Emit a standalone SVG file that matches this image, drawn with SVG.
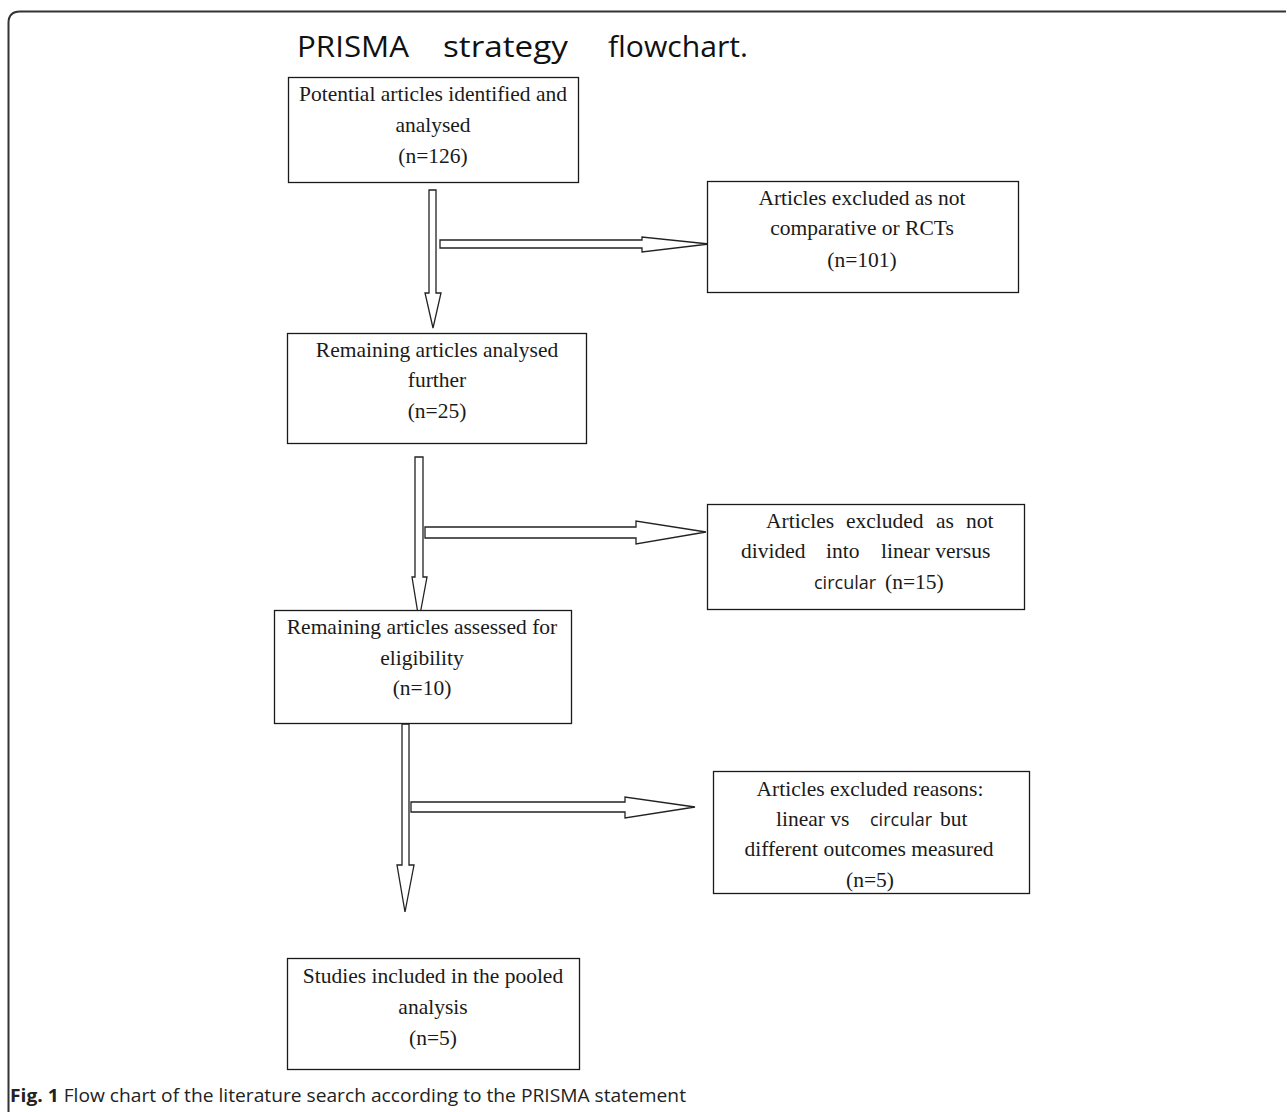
<svg xmlns="http://www.w3.org/2000/svg" width="1287" height="1112" viewBox="0 0 1287 1112">
<style>
.box{fill:#fff;stroke:#1a1a1a;stroke-width:1.3}
.t{font-family:"Liberation Serif","Times New Roman",serif;font-size:21.5px;fill:#1a1a1a;text-anchor:middle}
.l{font-family:"Liberation Serif","Times New Roman",serif;font-size:21.5px;fill:#1a1a1a}
.s{font-family:"Open Sans","Liberation Sans",sans-serif;font-size:18px;fill:#1a1a1a}
.arr{fill:#fff;stroke:#222;stroke-width:1.3;stroke-linejoin:miter}
.title{font-family:"Open Sans","Liberation Sans",sans-serif;font-size:29px;fill:#111}
.cap{font-family:"Open Sans","Liberation Sans",sans-serif;font-size:18px;fill:#222}
</style>
<rect width="1287" height="1112" fill="#fff"/>
<path d="M8.5,1112 V23 Q8.5,11.5 20,11.5 H1286" fill="none" stroke="#333" stroke-width="2"/>
<g id="title">
<text class="title" x="297" y="57" textLength="112" lengthAdjust="spacingAndGlyphs">PRISMA</text>
<text class="title" x="443" y="57" textLength="125" lengthAdjust="spacingAndGlyphs">strategy</text>
<text class="title" x="608" y="57" textLength="140" lengthAdjust="spacingAndGlyphs">flowchart.</text>
</g>
<g id="connectors">
<polygon class="arr" points="429,190 436,190 436,293 441,293 433,328 425,293 429,293"/>
<polygon class="arr" points="440,240 642,240 642,237 709,244 642,252 642,248 440,248"/>
<polygon class="arr" points="415,457 423,457 423,577 427,577 419,620 412,577 415,577"/>
<polygon class="arr" points="425,527 636,527 636,521 706,532 636,544 636,538 425,538"/>
<polygon class="arr" points="402,724 409,724 409,865 414,865 405,912 397,865 402,865"/>
<polygon class="arr" points="411,802 625,802 625,797 695,807 625,818 625,812 411,812"/>
</g>
<g id="n1">
<rect class="box" x="288.5" y="77.5" width="290" height="105"/>
<text class="t" x="433" y="101">Potential articles identified and</text>
<text class="t" x="433" y="132">analysed</text>
<text class="t" x="433" y="163">(n=126)</text>
</g>
<g id="n2">
<rect class="box" x="707.5" y="181.5" width="311" height="111"/>
<text class="t" x="862" y="205">Articles excluded as not</text>
<text class="t" x="862" y="235">comparative or RCTs</text>
<text class="t" x="862" y="267">(n=101)</text>
</g>
<g id="n3">
<rect class="box" x="287.5" y="333.5" width="299" height="110"/>
<text class="t" x="437" y="357">Remaining articles analysed</text>
<text class="t" x="437" y="387">further</text>
<text class="t" x="437" y="418">(n=25)</text>
</g>
<g id="n4">
<rect class="box" x="707.5" y="504.5" width="317" height="105"/>
<text class="l" y="528"><tspan x="766">Articles</tspan><tspan x="846">excluded</tspan><tspan x="936">as</tspan><tspan x="966">not</tspan></text>
<text class="l" y="558"><tspan x="741">divided</tspan><tspan x="826">into</tspan><tspan x="881">linear versus</tspan></text>
<text class="l" y="589"><tspan class="s" x="814">circular</tspan><tspan x="885">(n=15)</tspan></text>
</g>
<g id="n5">
<rect class="box" x="274.5" y="610.5" width="297" height="113"/>
<text class="t" x="422" y="634">Remaining articles assessed for</text>
<text class="t" x="422" y="665">eligibility</text>
<text class="t" x="422" y="695">(n=10)</text>
</g>
<g id="n6">
<rect class="box" x="713.5" y="771.5" width="316" height="122"/>
<text class="t" x="870" y="796">Articles excluded reasons:</text>
<text class="l" y="826"><tspan x="776">linear vs</tspan><tspan class="s" x="870">circular</tspan><tspan x="940">but</tspan></text>
<text class="t" x="869" y="856">different outcomes measured</text>
<text class="t" x="870" y="887">(n=5)</text>
</g>
<g id="n7">
<rect class="box" x="287.5" y="958.5" width="292" height="111"/>
<text class="t" x="433" y="983">Studies included in the pooled</text>
<text class="t" x="433" y="1014">analysis</text>
<text class="t" x="433" y="1045">(n=5)</text>
</g>
<g id="caption">
<text class="cap" x="10" y="1102" textLength="676" lengthAdjust="spacingAndGlyphs"><tspan font-weight="bold">Fig. 1</tspan> Flow chart of the literature search according to the PRISMA statement</text>
</g>
</svg>
